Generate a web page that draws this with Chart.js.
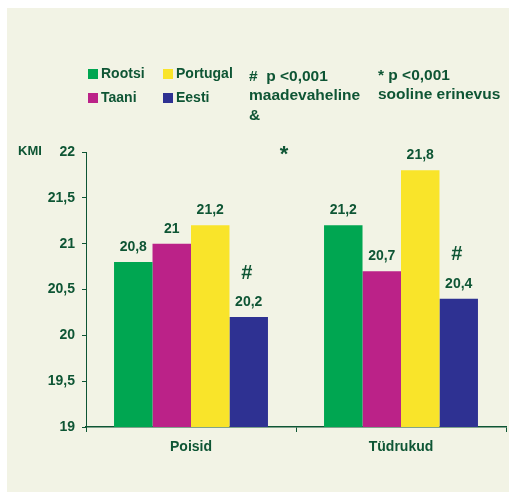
<!DOCTYPE html>
<html>
<head>
<meta charset="utf-8">
<script src="https://cdn.jsdelivr.net/npm/chart.js@4/dist/chart.umd.min.js"></script>
<style>
  html, body { margin: 0; padding: 0; background: #fff; }
  #wrap { width: 509px; height: 492px; }
</style>
</head>
<body>
<div id="wrap"><canvas id="chart" width="509" height="492"></canvas></div>
<script>
const categories = ["Poisid", "Tüdrukud"];
const countries = ["Rootsi", "Taani", "Portugal", "Eesti"];
const rootsi = [20.8, 21.2];
const taani = [21, 20.7];
const portugal = [21.2, 21.8];
const eesti = [20.2, 20.4];
const colors = ["#00a651", "#bb2288", "#f9e42a", "#2e3192"];
const yTicks = [19, 19.5, 20, 20.5, 21, 21.5, 22];

const ink = "#0e5534";
const font = "'Liberation Sans', Arial, sans-serif";

function fmt(v) {
  return String(v).replace(".", ",");
}

// background panel, legend, notes, value labels
const decor = {
  id: "decor",
  beforeDraw(c) {
    const ctx = c.ctx;
    ctx.save();
    ctx.fillStyle = "#f2f3e5";
    ctx.fillRect(7, 8, 502, 484);
    ctx.restore();
  },
  afterDraw(c) {
    const ctx = c.ctx;
    ctx.save();
    ctx.fillStyle = ink;
    ctx.textBaseline = "middle";

    // legend 2x2
    const pos = [[88, 74], [88, 98], [163, 74], [163, 98]];
    ctx.font = "bold 14px " + font;
    c.data.datasets.forEach((ds, i) => {
      const [x, y] = pos[i];
      ctx.fillStyle = ds.backgroundColor;
      ctx.fillRect(x, y - 5, 10, 10);
      ctx.fillStyle = ink;
      ctx.textAlign = "left";
      ctx.fillText(ds.label, x + 13, y);
    });

    // notes
    ctx.font = "bold 15.5px " + font;
    ctx.fillText("#  p <0,001", 249, 77);
    ctx.fillText("maadevaheline", 249, 96);
    ctx.fillText("&", 249, 116);
    ctx.fillText("* p <0,001", 378, 76);
    ctx.fillText("sooline erinevus", 378, 95);

    // axis title
    ctx.font = "bold 13px " + font;
    ctx.fillText("KMI", 18, 151);

    // value labels
    ctx.font = "bold 14px " + font;
    ctx.textAlign = "center";
    c.data.datasets.forEach((ds, i) => {
      c.getDatasetMeta(i).data.forEach((bar, j) => {
        ctx.fillText(fmt(ds.data[j]), bar.x, bar.y - 15);
      });
    });

    // significance marks
    ctx.font = "bold 20px " + font;
    const blue = c.getDatasetMeta(3).data;
    blue.forEach(bar => {
      ctx.fillText("#", bar.x - 2, bar.y - 44);
    });
    ctx.font = "bold 22px " + font;
    ctx.fillText("*", c.scales.x.getPixelForValue(0.5) - 12, 155);
    ctx.restore();
  }
};

new Chart(document.getElementById("chart"), {
  type: "bar",
  data: {
    labels: categories,
    datasets: [rootsi, taani, portugal, eesti].map((d, i) => ({
      label: countries[i],
      data: d,
      backgroundColor: colors[i],
      borderWidth: 0,
      categoryPercentage: 0.733,
      barPercentage: 1
    }))
  },
  options: {
    responsive: false,
    animation: false,
    layout: { padding: { top: 152, left: 0, right: 3, bottom: 0 } },
    plugins: { legend: { display: false }, tooltip: { enabled: false } },
    scales: {
      x: {
        grid: { drawOnChartArea: false, tickLength: 5, color: ink },
        border: { color: ink, width: 1.5 },
        ticks: { color: ink, font: { family: font, size: 14, weight: "bold" }, padding: 7 },
        afterFit(a) { a.height = 65; }
      },
      y: {
        min: 19,
        max: 22,
        afterBuildTicks(a) { a.ticks = yTicks.map(v => ({ value: v })); },
        grid: { drawOnChartArea: false, tickLength: 4, color: ink },
        border: { color: ink, width: 1 },
        ticks: {
          color: ink,
          font: { family: font, size: 14, weight: "bold" },
          padding: 7,
          callback: v => fmt(v)
        },
        afterFit(a) { a.width = 86; }
      }
    }
  },
  plugins: [decor]
});
</script>
</body>
</html>
